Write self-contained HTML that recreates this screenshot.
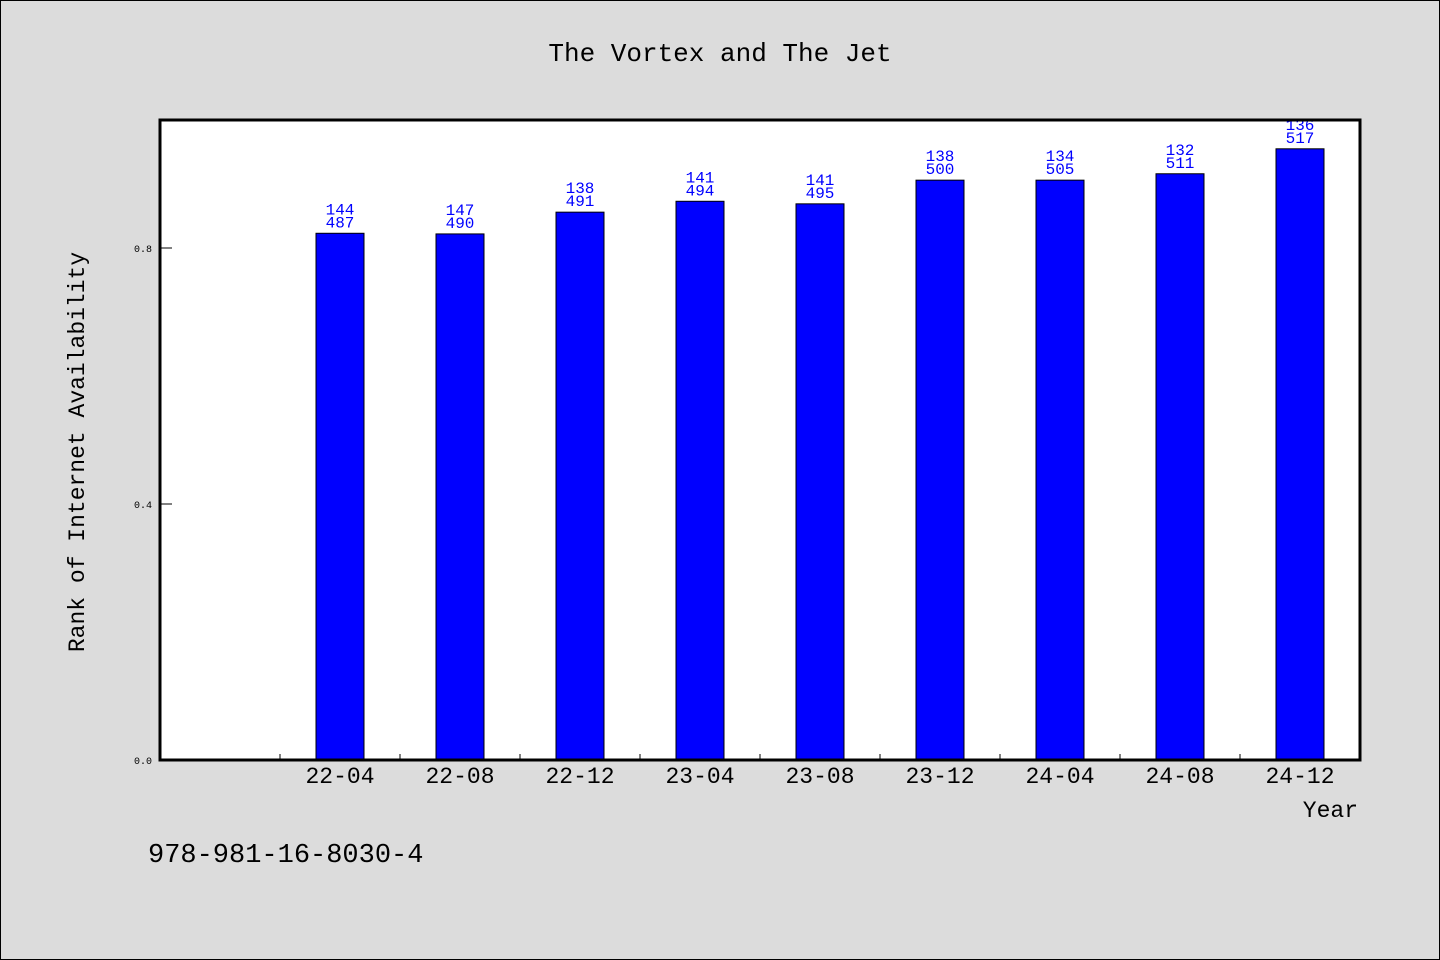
<!DOCTYPE html>
<html><head><meta charset="utf-8"><style>
body{margin:0;background:#dcdcdc;}
svg{display:block;font-family:"Liberation Mono",monospace;}
</style></head><body>
<svg id="chart" width="1440" height="960" xmlns="http://www.w3.org/2000/svg">
<rect x="0.5" y="0.5" width="1439" height="959" fill="#dcdcdc" stroke="#000"/>
<text x="720" y="61" font-size="26" text-anchor="middle">The Vortex and The Jet</text>
<rect x="160" y="120" width="1200" height="640" fill="#fff"/>
<g id="marks"></g>
<rect x="160" y="120" width="1200" height="640" fill="none" stroke="#000" stroke-width="3"/>
<text transform="translate(84,452) rotate(-90)" font-size="23" text-anchor="middle">Rank of Internet Availability</text>
<text x="1358" y="817" font-size="23" text-anchor="end">Year</text>
<text x="148" y="862" font-size="27">978-981-16-8030-4</text>
</svg>
<script>
const categories = ["", "22-04","22-08","22-12","23-04","23-08","23-12","24-04","24-08","24-12"];
const values = [null, 0.823,0.822,0.856,0.873,0.869,0.906,0.906,0.916,0.955];
const labelTop = [null, 144,147,138,141,141,138,134,132,136];
const labelBottom = [null, 487,490,491,494,495,500,505,511,517];
const yTicks = [0.0,0.4,0.8];
const yTickLabels = ["0.0","0.4","0.8"];

const X0=160, X1=1360, Y0=760, Y1=120, YMAX=1.0;
const slot=(X1-X0)/categories.length;
const xC=i=>X0+slot*(i+0.5);
const y=v=>Y0-(v/YMAX)*(Y0-Y1);
const NS="http://www.w3.org/2000/svg";
const g=document.getElementById('marks');
function mk(t,a){const e=document.createElementNS(NS,t);for(const k in a)e.setAttribute(k,a[k]);g.appendChild(e);return e;}

yTicks.forEach((v,i)=>{
  const l=mk('line',{x1:X0,x2:X0+12,y1:y(v),y2:y(v),stroke:'#000','stroke-width':1});
  
  
  const t=mk('text',{x:X0-8,y:y(v)+4,'font-size':10,'text-anchor':'end'});
  t.textContent=yTickLabels[i];
  
  
});
for(let i=1;i<categories.length;i++){
  const xt=X0+slot*i;
  const l=mk('line',{x1:xt,x2:xt,y1:Y0,y2:Y0-6,stroke:'#000','stroke-width':1});
  
  
}
categories.forEach((c,i)=>{
  if(c){
    const t=mk('text',{x:xC(i),y:783,'font-size':23,'text-anchor':'middle'});
    t.textContent=c;
    
    
  }
  if(values[i]==null)return;
  const bw=48, top=y(values[i]);
  const r=mk('rect',{x:xC(i)-bw/2,y:top,width:bw,height:Y0-top,fill:'#0000ff',stroke:'#000','stroke-width':1});
  
  
  const t1=mk('text',{x:xC(i),y:top-19,'font-size':16,'text-anchor':'middle',fill:'#0000ff'});
  t1.textContent=labelTop[i];
  
  
  const t2=mk('text',{x:xC(i),y:top-6,'font-size':16,'text-anchor':'middle',fill:'#0000ff'});
  t2.textContent=labelBottom[i];
  
  
});
</script>
</body></html>
